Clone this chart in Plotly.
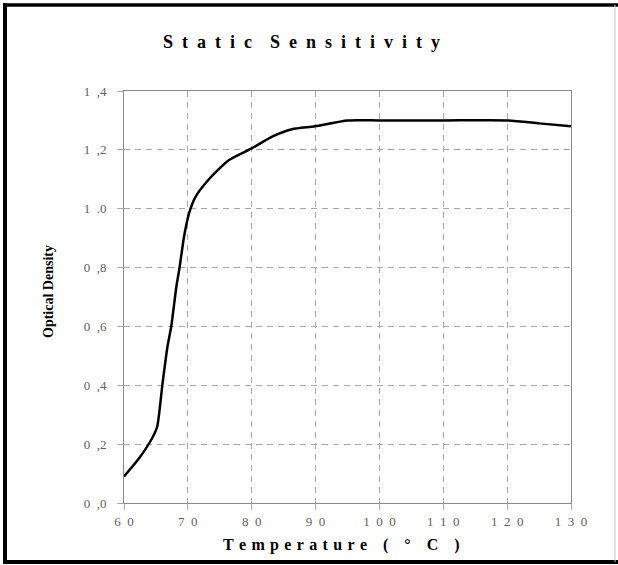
import plotly.graph_objects as go

# Data
temperature = [60, 62.3, 64.4, 65.2, 66.0, 66.8, 67.4, 68.2, 68.7, 69.4, 70.2, 71.2,
               73.3, 76.4, 80.0, 83.2, 86.3, 89.9, 95.0, 100, 110, 120, 125, 130]
optical_density = [0.09, 0.15, 0.22, 0.26, 0.40, 0.53, 0.60, 0.735, 0.80, 0.905, 0.985, 1.04,
                   1.10, 1.165, 1.205, 1.245, 1.27, 1.28, 1.30, 1.30, 1.30, 1.30, 1.29, 1.28]

x_ticks = [60, 70, 80, 90, 100, 110, 120, 130]
x_tick_labels = ["6 0", "7 0", "8 0", "9 0", "1 0 0", "1 1 0", "1 2 0", "1 3 0"]
y_ticks = [0.0, 0.2, 0.4, 0.6, 0.8, 1.0, 1.2, 1.4]
y_tick_labels = ["0 ,0", "0 ,2", "0 ,4", "0 ,6", "0 ,8", "1 .0", "1 ,2", "1 ,4"]

title_text = "Static Sensitivity"
x_title = "Temperature ( ° C )"
y_title = "Optical Density"

EN = "\u2002"


def spaced(s, gap=EN, word_gap=EN * 2):
    words = s.split(" ")
    return word_gap.join(gap.join(list(w)) for w in words)


def spaced_ticks(labels, gap):
    return [l.replace(" ", gap) for l in labels]


W, H = 618, 565
L, R, T, B = 124, 47, 91, 62
pw, ph = W - L - R, H - T - B


def px_x(px):
    return (px - L) / pw


def px_y(py):
    return (H - B - py) / ph


fig = go.Figure()
fig.add_trace(go.Scatter(
    x=temperature, y=optical_density, mode="lines",
    line=dict(color="black", width=2.5, shape="spline", smoothing=0.6),
    hoverinfo="skip", showlegend=False,
))

serif = "Liberation Serif, Times New Roman, serif"
grid_col = "#a8a8a8"

fig.update_layout(
    width=W, height=H,
    margin=dict(l=L, r=R, t=T, b=B),
    paper_bgcolor="white", plot_bgcolor="white",
    showlegend=False,
    xaxis=dict(
        range=[60, 130], tickvals=x_ticks,
        ticktext=spaced_ticks(x_tick_labels, "\u2002"),
        showgrid=True, gridcolor=grid_col, griddash="6px,5px", gridwidth=1,
        showline=True, linecolor="#8a8a8a", linewidth=1, mirror=True,
        ticks="outside", ticklen=6, tickcolor="#aaaaaa",
        tickfont=dict(family=serif, size=13, color="#606060"),
        zeroline=False, fixedrange=True,
    ),
    yaxis=dict(
        range=[0, 1.4], tickvals=y_ticks,
        ticktext=spaced_ticks(y_tick_labels, "\u2002"),
        showgrid=True, gridcolor=grid_col, griddash="6px,5px", gridwidth=1,
        showline=True, linecolor="#8a8a8a", linewidth=1, mirror=True,
        ticks="outside", ticklen=6, tickcolor="#aaaaaa",
        tickfont=dict(family=serif, size=13, color="#606060"),
        ticklabelstandoff=8,
        zeroline=False, fixedrange=True,
    ),
    annotations=[
        dict(text="<b>" + spaced(title_text) + "</b>", xref="paper", yref="paper",
             x=px_x(301), y=px_y(42), showarrow=False, xanchor="center", yanchor="middle",
             font=dict(family=serif, size=18, color="black")),
        dict(text="<b>" + spaced(x_title, gap="\u2004", word_gap=EN * 2) + "</b>",
             xref="paper", yref="paper",
             x=px_x(341), y=px_y(545), showarrow=False, xanchor="center", yanchor="middle",
             font=dict(family=serif, size=16, color="black")),
        dict(text="<b>" + y_title + "</b>", xref="paper", yref="paper",
             x=px_x(48), y=px_y(292), showarrow=False, xanchor="center", yanchor="middle",
             textangle=-90, font=dict(family=serif, size=14, color="black")),
    ],
    shapes=[
        dict(type="line", xref="paper", yref="paper", x0=px_x(5), x1=px_x(5),
             y0=px_y(3), y1=px_y(562), line=dict(color="black", width=4)),
        dict(type="line", xref="paper", yref="paper", x0=px_x(3), x1=px_x(618),
             y0=px_y(5), y1=px_y(5), line=dict(color="black", width=3.5)),
        dict(type="line", xref="paper", yref="paper", x0=px_x(3), x1=px_x(618),
             y0=px_y(562), y1=px_y(562), line=dict(color="black", width=4)),
        dict(type="line", xref="paper", yref="paper", x0=px_x(615), x1=px_x(615),
             y0=px_y(5), y1=px_y(562), line=dict(color="#cccccc", width=1)),
    ],
)

fig.write_html(
    "out.html",
    config={"displayModeBar": False},
    post_script="document.body.style.margin='0';document.body.style.overflow='hidden';",
)
